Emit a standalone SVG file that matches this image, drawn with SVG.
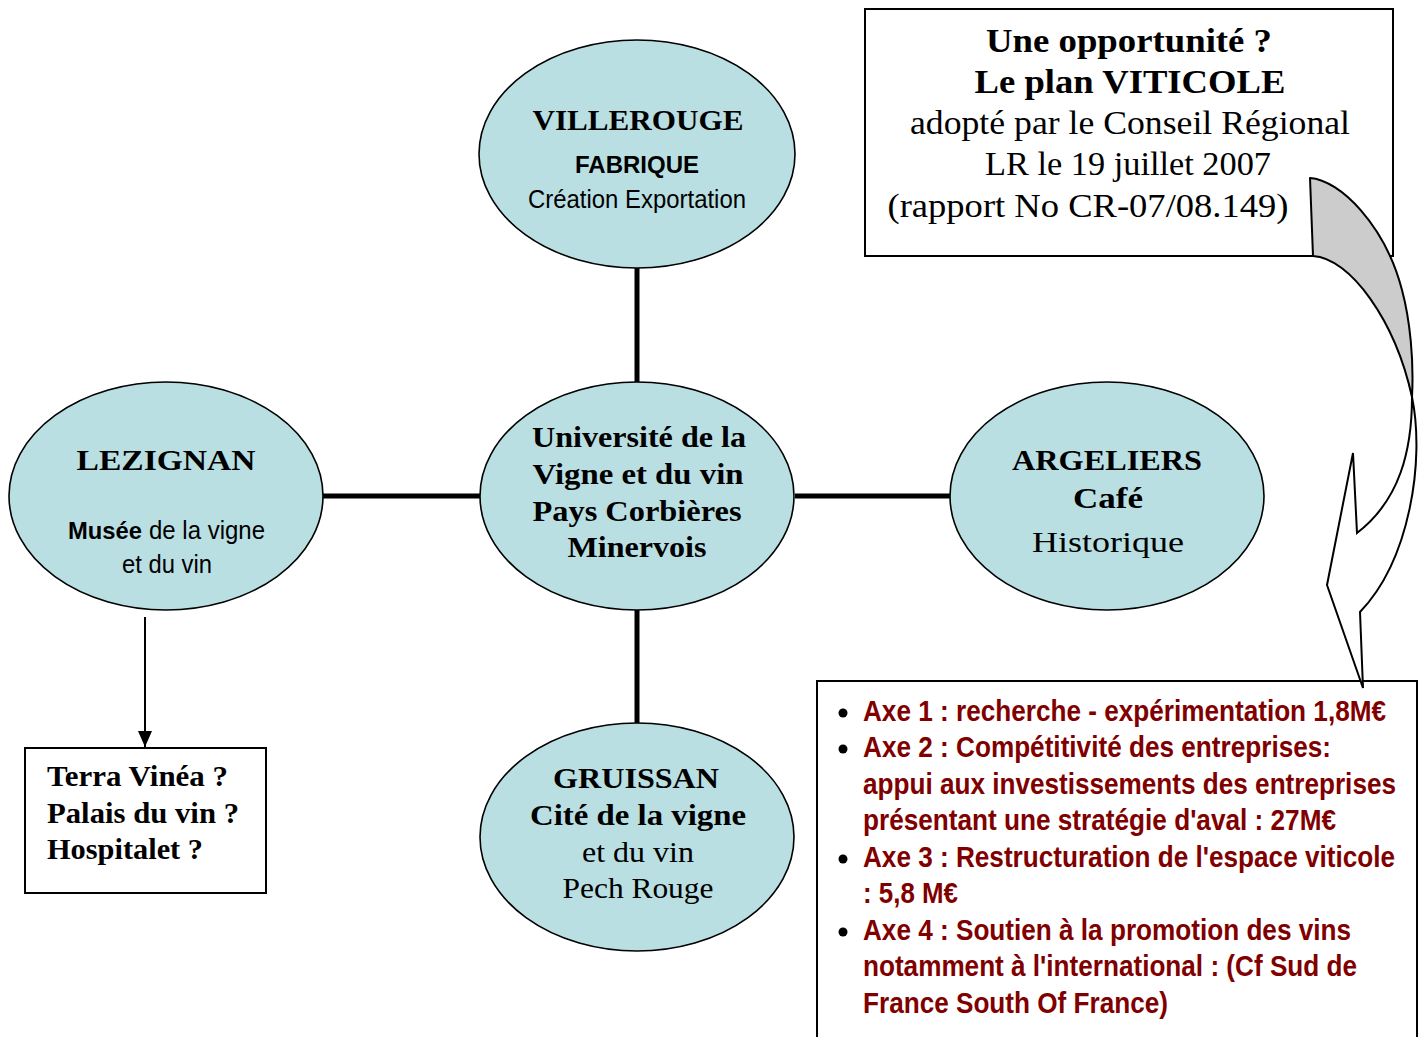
<svg xmlns="http://www.w3.org/2000/svg" width="1426" height="1037" viewBox="0 0 1426 1037">
<style>
.ell{fill:#b9dfe3;stroke:#000;stroke-width:1.6}
.box{fill:#fff;stroke:#000;stroke-width:2}
.link{stroke:#000;stroke-width:5;fill:none}
.arr{stroke:#000;stroke-width:2;fill:none}
.sb{font-family:"Liberation Serif",serif;font-weight:bold;font-size:29px;fill:#000}
.sr{font-family:"Liberation Serif",serif;font-size:30px;fill:#000}
.ab{font-family:"Liberation Sans",Arial,sans-serif;font-weight:bold;font-size:24px;fill:#000}
.ar{font-family:"Liberation Sans",Arial,sans-serif;font-size:25px;fill:#000}
.red{font-family:"Liberation Sans Narrow","Liberation Sans",Arial,sans-serif;font-weight:bold;font-size:26px;fill:#800000}
.t1b{font-family:"Liberation Serif",serif;font-weight:bold;font-size:33px;fill:#000}
.t1r{font-family:"Liberation Serif",serif;font-size:33px;fill:#000}
.mid{text-anchor:middle}
</style>
<defs>
<marker id="ah" markerUnits="userSpaceOnUse" markerWidth="16" markerHeight="14" refX="16" refY="7" orient="auto">
<path d="M0,0 L16,7 L0,14 Z" fill="#000"/>
</marker>
</defs>

<g id="connectors">
<line class="link" x1="637" y1="268" x2="637" y2="383"/>
<line class="link" x1="637" y1="610" x2="637" y2="723"/>
<line class="link" x1="323" y1="496" x2="480" y2="496"/>
<line class="link" x1="795" y1="496" x2="950" y2="496"/>
<line class="arr" x1="145" y1="617" x2="145" y2="747" marker-end="url(#ah)"/>
</g>

<g id="villerouge">
<ellipse class="ell" cx="637" cy="154" rx="158" ry="114"/>
<text class="sb mid" x="638" y="130" textLength="211" lengthAdjust="spacingAndGlyphs">VILLEROUGE</text>
<text class="ab mid" x="637" y="173" font-size="25" textLength="124" lengthAdjust="spacingAndGlyphs">FABRIQUE</text>
<text class="ar mid" x="637" y="208" textLength="218" lengthAdjust="spacingAndGlyphs">Création Exportation</text>
</g>

<g id="universite">
<ellipse class="ell" cx="637" cy="496" rx="157" ry="114"/>
<text class="sb mid" x="639" y="447" textLength="214" lengthAdjust="spacingAndGlyphs">Université de la</text>
<text class="sb mid" x="638" y="484" textLength="211" lengthAdjust="spacingAndGlyphs">Vigne et du vin</text>
<text class="sb mid" x="637" y="521" textLength="209" lengthAdjust="spacingAndGlyphs">Pays Corbières</text>
<text class="sb mid" x="637" y="557" textLength="139" lengthAdjust="spacingAndGlyphs">Minervois</text>
</g>

<g id="argeliers">
<ellipse class="ell" cx="1107" cy="496" rx="157" ry="114"/>
<text class="sb mid" x="1107" y="470" textLength="190" lengthAdjust="spacingAndGlyphs">ARGELIERS</text>
<text class="sb mid" x="1108" y="508" textLength="70" lengthAdjust="spacingAndGlyphs">Café</text>
<text class="sr mid" x="1108" y="552" textLength="152" lengthAdjust="spacingAndGlyphs">Historique</text>
</g>

<g id="gruissan">
<ellipse class="ell" cx="637" cy="837" rx="157" ry="114"/>
<text class="sb mid" x="636" y="788" textLength="166" lengthAdjust="spacingAndGlyphs">GRUISSAN</text>
<text class="sb mid" x="638" y="825" textLength="216" lengthAdjust="spacingAndGlyphs">Cité de la vigne</text>
<text class="sr mid" x="638" y="862" textLength="112" lengthAdjust="spacingAndGlyphs">et du vin</text>
<text class="sr mid" x="638" y="898" textLength="151" lengthAdjust="spacingAndGlyphs">Pech Rouge</text>
</g>

<g id="lezignan">
<ellipse class="ell" cx="166" cy="496" rx="157" ry="114"/>
<text class="sb mid" x="166" y="470" font-size="31" textLength="179" lengthAdjust="spacingAndGlyphs">LEZIGNAN</text>
<text class="ab" x="68" y="539" font-size="25" textLength="74" lengthAdjust="spacingAndGlyphs">Musée</text>
<text class="ar" x="149" y="539" textLength="116" lengthAdjust="spacingAndGlyphs">de la vigne</text>
<text class="ar mid" x="167" y="573" textLength="90" lengthAdjust="spacingAndGlyphs">et du vin</text>
</g>

<g id="sites">
<rect class="box" x="25" y="748" width="241" height="145"/>
<text class="sb" x="47" y="786" font-size="28" textLength="181" lengthAdjust="spacingAndGlyphs">Terra Vinéa ?</text>
<text class="sb" x="47" y="823" font-size="28" textLength="192" lengthAdjust="spacingAndGlyphs">Palais du vin ?</text>
<text class="sb" x="47" y="859" font-size="28" textLength="156" lengthAdjust="spacingAndGlyphs">Hospitalet ?</text>
</g>

<g id="axes">
<rect class="box" x="817" y="681" width="600" height="370"/>
<circle cx="843" cy="713" r="4.5" fill="#000"/>
<circle cx="843" cy="749" r="4.5" fill="#000"/>
<circle cx="843" cy="859" r="4.5" fill="#000"/>
<circle cx="843" cy="932" r="4.5" fill="#000"/>
<g transform="scale(1,1.15)">
<text class="red" x="863" y="626.96" textLength="523" lengthAdjust="spacingAndGlyphs">Axe 1 : recherche - expérimentation 1,8M€</text>
<text class="red" x="863" y="658.26" textLength="468" lengthAdjust="spacingAndGlyphs">Axe 2 : Compétitivité des entreprises:</text>
<text class="red" x="863" y="690.43" textLength="533" lengthAdjust="spacingAndGlyphs">appui aux investissements des entreprises</text>
<text class="red" x="863" y="721.74" textLength="473" lengthAdjust="spacingAndGlyphs">présentant une stratégie d'aval : 27M€</text>
<text class="red" x="863" y="753.91" textLength="532" lengthAdjust="spacingAndGlyphs">Axe 3 : Restructuration de l'espace viticole</text>
<text class="red" x="863" y="785.22" textLength="95" lengthAdjust="spacingAndGlyphs">: 5,8 M€</text>
<text class="red" x="863" y="817.39" textLength="488" lengthAdjust="spacingAndGlyphs">Axe 4 : Soutien à la promotion des vins</text>
<text class="red" x="863" y="848.70" textLength="494" lengthAdjust="spacingAndGlyphs">notamment à l'international : (Cf Sud de</text>
<text class="red" x="863" y="880.87" textLength="305" lengthAdjust="spacingAndGlyphs">France South Of France)</text>
</g>
</g>

<g id="plan">
<rect class="box" x="865" y="9" width="528" height="247"/>
<text class="t1b mid" x="1129" y="52" textLength="286" lengthAdjust="spacingAndGlyphs">Une opportunité ?</text>
<text class="t1b mid" x="1130" y="93" textLength="311" lengthAdjust="spacingAndGlyphs">Le plan VITICOLE</text>
<text class="t1r mid" x="1130" y="134" textLength="440" lengthAdjust="spacingAndGlyphs">adopté par le Conseil Régional</text>
<text class="t1r mid" x="1128" y="175" textLength="286" lengthAdjust="spacingAndGlyphs">LR le 19 juillet 2007</text>
<text class="t1r mid" x="1088" y="217" textLength="401" lengthAdjust="spacingAndGlyphs">(rapport No CR-07/08.149)</text>
</g>

<g id="callout">
<path d="M1310,178 C1340,180 1385,225 1402,290 C1410,320 1414,360 1412,397 C1395,320 1350,258 1313,256 Z" fill="#cccccc" stroke="#000" stroke-width="2" stroke-linejoin="round"/>
<path d="M1412,397 C1412,450 1400,500 1357,533 L1353,453 L1327,585 L1363,688 L1360,612 C1410,560 1425,460 1412,397 Z" fill="#fff" stroke="#000" stroke-width="2" stroke-linejoin="miter"/>
</g>
</svg>
